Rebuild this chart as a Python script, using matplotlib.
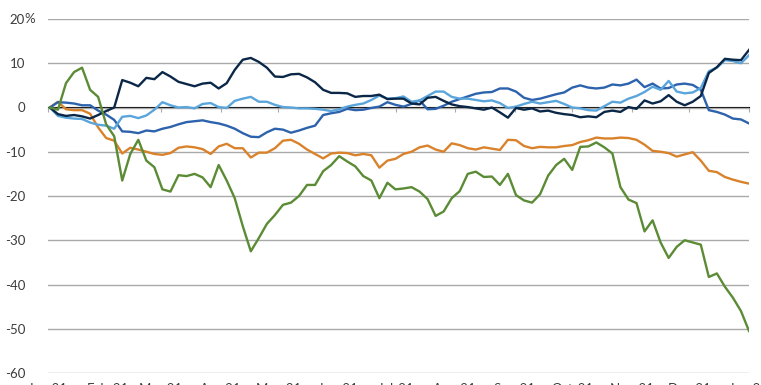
import matplotlib
matplotlib.use("Agg")
import matplotlib.pyplot as plt
import pandas as pd

plt.rcParams['font.family'] = ['Lato', 'DejaVu Sans']

# ---- data (cumulative return, %) ----
start_date = "2021-01-02"
end_date = "2022-01-01"
n_points = 88

navy = [0, -1.5, -1.9, -1.7, -2.0, -2.5, -1.7, -0.8, 0.0, 6.2,
        5.6, 4.8, 6.7, 6.4, 8.0, 7.0, 5.8, 5.3, 4.8, 5.4,
        5.6, 4.3, 5.5, 8.5, 10.8, 11.2, 10.3, 9.0, 7.0, 6.9,
        7.5, 7.6, 6.8, 5.7, 4.0, 3.3, 3.3, 3.2, 2.4, 2.6,
        2.6, 2.9, 1.9, 2.0, 2.0, 0.9, 0.7, 2.2, 2.4, 1.5,
        0.7, 0.3, 0.1, -0.2, -0.5, 0.0, -1.1, -2.3, -0.1, -0.5,
        -0.2, -0.9, -0.7, -1.2, -1.5, -1.7, -2.2, -2.0, -2.2, -1.0,
        -0.7, -1.0, 0.1, -0.3, 1.6, 0.9, 1.4, 2.8, 1.3, 0.5,
        1.3, 2.6, 7.8, 9.1, 11.0, 10.8, 10.7, 13.0]

mid_blue = [0, 1.2, 1.1, 0.9, 0.5, 0.5, -0.7, -1.6, -2.8, -5.4,
            -5.5, -5.8, -5.2, -5.4, -4.8, -4.4, -3.8, -3.3, -3.1, -2.9,
            -3.3, -3.6, -4.1, -4.8, -5.8, -6.6, -6.7, -5.6, -4.8, -5.0,
            -5.7, -5.2, -4.6, -4.1, -1.7, -1.3, -1.0, -0.3, -0.6, -0.5,
            -0.1, 0.2, 1.2, 0.6, 0.2, 0.8, 1.6, -0.4, -0.3, 0.4,
            1.3, 1.9, 2.5, 3.1, 3.4, 3.5, 4.3, 4.3, 3.6, 2.2,
            1.7, 2.0, 2.5, 3.0, 3.4, 4.5, 5.0, 4.5, 4.3, 4.5,
            5.2, 5.0, 5.4, 6.3, 4.6, 5.4, 4.3, 4.4, 5.2, 5.4,
            5.1, 4.0, -0.6, -1.0, -1.6, -2.5, -2.7, -3.6]

light_blue = [0, -1.9, -2.3, -2.5, -2.6, -3.4, -3.9, -4.1, -4.8, -2.1,
              -1.9, -2.4, -1.8, -0.5, 1.2, 0.5, 0.0, 0.1, -0.2, 0.8,
              1.0, 0.1, -0.1, 1.5, 2.0, 2.4, 1.3, 1.3, 0.6, 0.1,
              0.0, -0.2, -0.2, -0.3, -0.5, -0.8, -0.4, 0.2, 0.6, 0.9,
              1.7, 2.7, 2.0, 2.1, 2.5, 1.3, 1.6, 2.6, 3.6, 3.6,
              2.4, 2.0, 2.0, 1.7, 1.4, 1.6, 1.0, -0.1, 0.2, 0.8,
              1.3, 0.9, 1.2, 1.5, 0.8, 0.0, -0.2, -0.6, -0.7, 0.3,
              1.3, 1.1, 2.0, 2.6, 3.5, 4.7, 4.0, 6.0, 3.6, 3.2,
              3.4, 4.4, 8.2, 9.0, 10.7, 10.5, 10.0, 11.8]

orange = [0, 1.3, -0.4, -0.6, -0.6, -1.4, -4.5, -6.9, -7.5, -10.4,
          -9.1, -9.5, -10.0, -10.5, -10.7, -10.3, -9.1, -8.8, -9.0, -9.4,
          -10.5, -8.8, -8.2, -9.2, -9.2, -11.3, -10.2, -10.2, -9.2, -7.5,
          -7.3, -8.2, -9.5, -10.5, -11.5, -10.4, -10.2, -10.3, -10.8, -10.5,
          -10.8, -13.6, -12.0, -11.6, -10.5, -10.0, -9.0, -8.6, -9.5, -10.0,
          -8.1, -8.5, -9.2, -9.5, -9.0, -9.3, -9.6, -7.3, -7.4, -8.7,
          -9.2, -8.9, -9.0, -9.0, -8.7, -8.5, -7.8, -7.4, -6.8, -7.0,
          -7.0, -6.8, -6.9, -7.3, -8.4, -9.8, -10.0, -10.3, -11.1, -10.6,
          -10.1, -12.0, -14.3, -14.6, -15.7, -16.3, -16.8, -17.2]

green = [0, -0.5, 5.5, 8.0, 9.0, 4.0, 2.4, -3.8, -6.5, -16.5,
         -10.5, -7.3, -12.0, -13.5, -18.5, -19.0, -15.3, -15.5, -15.0, -15.8,
         -18.0, -13.0, -16.5, -20.5, -26.8, -32.5, -29.5, -26.3, -24.3, -22.0,
         -21.5, -20.0, -17.5, -17.5, -14.4, -13.0, -11.0, -12.2, -13.3, -15.5,
         -16.5, -20.5, -17.0, -18.5, -18.3, -18.0, -19.0, -20.7, -24.5, -23.5,
         -20.5, -18.9, -15.0, -14.5, -15.7, -15.6, -17.5, -15.0, -19.8, -21.0,
         -21.5, -19.6, -15.4, -13.0, -11.6, -14.1, -8.9, -8.8, -7.9, -9.0,
         -10.4, -18.0, -20.8, -21.6, -28.0, -25.5, -30.5, -34.0, -31.5, -30.0,
         -30.5, -31.0, -38.3, -37.5, -40.5, -43.0, -46.0, -50.5]

y_ticks = [20, 10, 0, -10, -20, -30, -40, -50, -60]
y_tick_labels = ["20", "10", "0", "-10", "-20", "-30", "-40", "-50", "-60"]

series = [
    (orange, "#d9822b"),
    (mid_blue, "#2d62ad"),
    (light_blue, "#5aa5db"),
    (navy, "#0b2747"),
    (green, "#5b8c35"),
]

dates = pd.date_range(start_date, end_date, periods=n_points)
month_ticks = pd.date_range("2021-01-01", "2022-01-01", freq="MS")
month_labels = [d.strftime("%b-%y") for d in month_ticks]

fig = plt.figure(figsize=(7.61, 3.85), dpi=100)
ax = fig.add_axes([48 / 761, 12 / 385, 701 / 761, 354 / 385])

for vals, col in series:
    ax.plot(dates, vals, color=col, lw=1.7, solid_joinstyle="round", zorder=3)

ax.set_xlim(pd.Timestamp("2021-01-01"), pd.Timestamp("2022-01-01"))
ax.set_ylim(-60, 20)
ax.set_yticks(y_ticks)
ax.set_yticklabels(y_tick_labels)
ax.yaxis.grid(True, color="#a9a9a9", lw=1.0, zorder=1)
ax.set_axisbelow(True)

ax.set_xticks(month_ticks)
ax.set_xticklabels(month_labels)

for s in ax.spines.values():
    s.set_visible(False)

ax.tick_params(axis="y", length=0, pad=16.5, labelsize=9.5, labelcolor="#3c3c3c")
ax.tick_params(axis="x", length=0, pad=7.5, labelsize=9.5, labelcolor="#3c3c3c")

# '%' suffix on the top tick label
ax.annotate("%", xy=(0, 20), xycoords=("axes fraction", "data"),
            xytext=(-24, 0), textcoords="offset pixels",
            ha="left", va="center", fontsize=9.5, color="#3c3c3c")

# small tick marks on the zero line
sec = ax.secondary_xaxis(0.75)
sec.set_xticks(month_ticks)
sec.set_xticklabels([])
sec.tick_params(axis="x", direction="in", length=3.5, width=0.8, color="#a9a9a9")
sec.spines["bottom"].set_visible(False)

fig.savefig("out.png", dpi=100)
